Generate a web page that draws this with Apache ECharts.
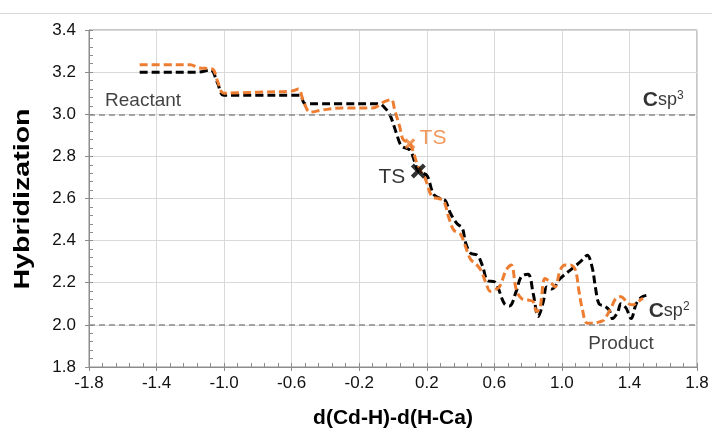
<!DOCTYPE html>
<html><head><meta charset="utf-8">
<script src="https://cdn.jsdelivr.net/npm/echarts@6/dist/echarts.min.js"></script>
<style>html,body{margin:0;padding:0;background:#fff}#c{width:712px;height:432px}</style>
</head><body><div id="c"></div>
<script>
var xTicks = [-1.8, -1.4, -1.0, -0.6, -0.2, 0.2, 0.6, 1.0, 1.4, 1.8];
var yTicks = [1.8, 2.0, 2.2, 2.4, 2.6, 2.8, 3.0, 3.2, 3.4];
var blackX = [-1.50,-1.30,-1.16,-1.08,-1.04,-1.00,-0.80,-0.60,-0.55,-0.52,-0.30,-0.08,-0.06,-0.02,0.02,0.05,0.10,0.13,0.15,0.20,0.24,0.28,0.31,0.34,0.38,0.41,0.43,0.46,0.50,0.53,0.56,0.60,0.62,0.66,0.69,0.73,0.76,0.80,0.83,0.86,0.89,0.91,0.94,0.99,1.05,1.11,1.15,1.18,1.20,1.22,1.25,1.28,1.30,1.33,1.35,1.38,1.41,1.44,1.47,1.50];
var blackY = [3.20,3.20,3.20,3.21,3.15,3.09,3.09,3.09,3.09,3.05,3.05,3.05,3.04,3.00,2.91,2.85,2.83,2.77,2.73,2.71,2.62,2.60,2.59,2.53,2.48,2.46,2.39,2.34,2.33,2.28,2.21,2.205,2.18,2.10,2.09,2.16,2.23,2.24,2.15,2.04,2.11,2.18,2.17,2.22,2.26,2.30,2.33,2.27,2.17,2.10,2.09,2.07,2.03,2.06,2.10,2.08,2.03,2.10,2.13,2.14];
var orangeX = [-1.50,-1.30,-1.20,-1.15,-1.07,-1.04,-1.00,-0.80,-0.60,-0.56,-0.53,-0.49,-0.42,-0.30,-0.12,-0.05,-0.01,0.01,0.04,0.06,0.10,0.15,0.19,0.23,0.27,0.30,0.33,0.36,0.40,0.43,0.46,0.49,0.52,0.55,0.575,0.60,0.63,0.67,0.70,0.73,0.76,0.80,0.83,0.85,0.87,0.90,0.93,0.96,0.99,1.02,1.05,1.08,1.10,1.12,1.15,1.19,1.23,1.25,1.29,1.32,1.35,1.39,1.42,1.45,1.48];
var orangeY = [3.235,3.235,3.235,3.22,3.215,3.16,3.10,3.105,3.11,3.12,3.06,3.01,3.02,3.03,3.03,3.06,3.07,3.02,2.94,2.88,2.86,2.75,2.695,2.61,2.60,2.59,2.51,2.45,2.43,2.37,2.31,2.29,2.26,2.20,2.16,2.166,2.18,2.26,2.284,2.166,2.126,2.118,2.11,2.063,2.08,2.22,2.205,2.18,2.26,2.284,2.284,2.26,2.166,2.079,2.008,2.008,2.016,2.024,2.079,2.126,2.134,2.103,2.095,2.11,2.126];
var tsBlack = [0.15, 2.73];
var tsOrange = [0.10, 2.86];
var refLevels = [3.0, 2.0];

var FONT = '"Liberation Sans", Arial, sans-serif';
var AX = '#8c8c8c';
function zip(a, b) { return a.map(function (v, i) { return [v, b[i]]; }); }
var cross = 'path://M2,0 L5,3 L8,0 L10,2 L7,5 L10,8 L8,10 L5,7 L2,10 L0,8 L3,5 L0,2 Z';

var chart = echarts.init(document.getElementById('c'), null, {renderer: 'canvas'});
var fmt = function (v) { return (Math.round(v * 10) / 10).toFixed(1); };
var option = {
  animation: false,
  backgroundColor: '#fff',
  textStyle: {fontFamily: FONT},
  grid: {left: 89, right: 15, top: 30, bottom: 65, outerBoundsMode: 'none', containLabel: false,
    show: true, borderColor: AX, borderWidth: 1, backgroundColor: 'transparent'},
  graphic: [
    {type: 'line', shape: {x1: 0, y1: 13.5, x2: 712, y2: 13.5}, style: {stroke: '#d9d9d9', lineWidth: 1}},
    {type: 'text', x: 23, y: 199, rotation: Math.PI / 2, scaleX: 1.3,
      style: {text: 'Hybridization', font: 'bold 22px "Liberation Sans", Arial, sans-serif', fill: '#000', align: 'center', verticalAlign: 'middle'}}
  ],
  xAxis: [{
    type: 'value', min: xTicks[0], max: xTicks[xTicks.length - 1], interval: 0.4,
    name: 'd(Cd-H)-d(H-Ca)', nameLocation: 'middle', nameGap: 41,
    nameTextStyle: {fontSize: 21, fontWeight: 'bold', color: '#000', fontFamily: FONT},
    axisLine: {show: true, onZero: false, lineStyle: {color: AX, width: 1}},
    axisTick: {show: true, inside: true, length: 4, lineStyle: {color: AX}},
    minorTick: {show: true, splitNumber: 5, length: 4, lineStyle: {color: AX}},
    splitLine: {show: true, lineStyle: {color: '#d9d9d9', width: 1}},
    axisLabel: {fontSize: 17, color: '#111', margin: 8, formatter: fmt, fontFamily: FONT}
  }, {
    type: 'value', min: xTicks[0], max: xTicks[xTicks.length - 1], interval: 0.4, position: 'bottom',
    axisLine: {show: false, onZero: false}, axisTick: {show: true, inside: false, length: 4, lineStyle: {color: AX}},
    axisLabel: {show: false}, splitLine: {show: false}
  }],
  yAxis: [{
    type: 'value', min: yTicks[0], max: yTicks[yTicks.length - 1], interval: 0.2,
    axisLine: {show: true, onZero: false, lineStyle: {color: AX, width: 1}},
    axisTick: {show: true, inside: true, length: 4, lineStyle: {color: AX}},
    minorTick: {show: true, splitNumber: 5, length: 4, lineStyle: {color: AX}},
    splitLine: {show: true, lineStyle: {color: '#d9d9d9', width: 1}},
    axisLabel: {fontSize: 17, color: '#111', margin: 13, formatter: fmt, fontFamily: FONT}
  }, {
    type: 'value', min: yTicks[0], max: yTicks[yTicks.length - 1], interval: 0.2, position: 'left',
    axisLine: {show: false, onZero: false}, axisTick: {show: true, inside: false, length: 4, lineStyle: {color: AX}},
    axisLabel: {show: false}, splitLine: {show: false}
  }],
  series: [
    {
      type: 'line', data: zip(blackX, blackY), smooth: 0.35, symbol: 'none',
      lineStyle: {color: '#000', width: 3, type: [8, 4]}, z: 3,
      markLine: {silent: true, symbol: 'none', label: {show: false},
        lineStyle: {color: '#8a8a8a', width: 1.5, type: [6, 4]},
        data: refLevels.map(function (v) { return {yAxis: v}; })}
    },
    {
      type: 'line', data: zip(orangeX, orangeY), smooth: 0.35, symbol: 'none',
      lineStyle: {color: '#ED7D31', width: 3, type: [8, 4]}, z: 4
    },
    {
      type: 'scatter', data: [tsOrange], symbol: cross, symbolSize: 11,
      itemStyle: {color: '#ED7D31'}, z: 6
    },
    {
      type: 'scatter', data: [tsBlack], symbol: cross, symbolSize: 15,
      itemStyle: {color: '#000'}, z: 7
    },
    {
      type: 'scatter', symbolSize: 0, z: 8, silent: true,
      label: {show: true, position: 'inside', fontFamily: FONT,
        formatter: function (p) { return p.data[2]; },
        rich: {
          n: {fontSize: 19, color: '#111', fontFamily: FONT},
          o: {fontSize: 21, color: '#ED7D31', fontFamily: FONT},
          k: {fontSize: 21, color: '#000', fontFamily: FONT},
          b: {fontSize: 21, fontWeight: 'bold', color: '#000', fontFamily: FONT},
          s: {fontSize: 18, color: '#000', fontFamily: FONT},
          sup: {fontSize: 12, color: '#000', fontFamily: FONT, verticalAlign: 'top', padding: [0, 0, 9, 0]}
        }},
      data: [
        [-1.48, 3.066, '{n|Reactant}'],
        [1.35, 1.91, '{n|Product}'],
        [1.60, 3.066, '{b|C}{s|sp}{sup|3}'],
        [1.635, 2.066, '{b|C}{s|sp}{sup|2}'],
        [0.237, 2.885, '{o|TS}'],
        [-0.007, 2.70, '{k|TS}']
      ]
    }
  ]
};
chart.setOption(option);
</script></body></html>
